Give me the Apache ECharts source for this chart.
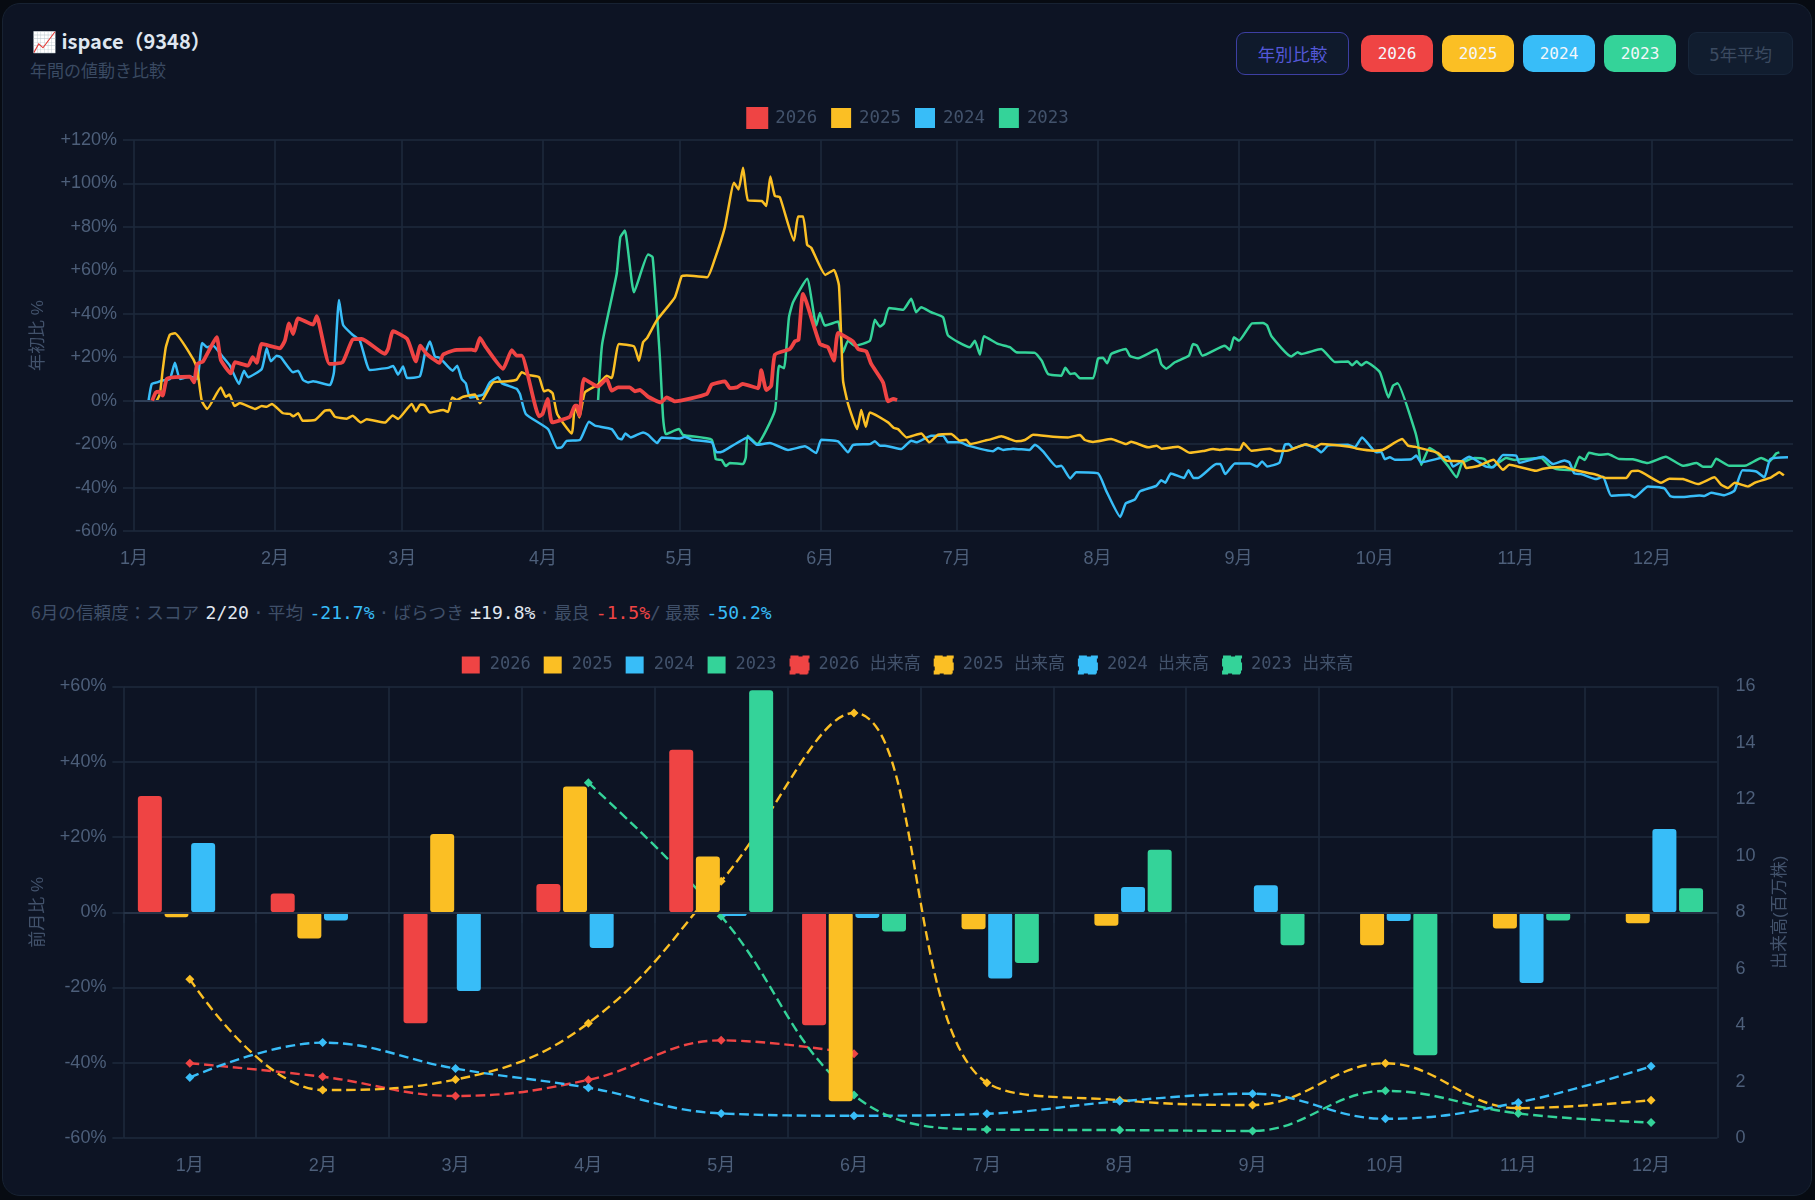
<!DOCTYPE html>
<html lang="ja">
<head>
<meta charset="utf-8">
<title>ispace（9348）年間の値動き比較</title>
<script src="https://cdn.jsdelivr.net/npm/echarts@6/dist/echarts.min.js"></script>
<style>
  html, body { margin: 0; padding: 0; background: #070b12; }
  body { width: 1815px; height: 1200px; position: relative; overflow: hidden;
         font-family: "DejaVu Sans Mono", "Noto Sans CJK JP", monospace; }
  .card { position: absolute; left: 2px; top: 3px; width: 1808px; height: 1191px;
          background: #0d1424; border: 1px solid #172232; border-radius: 18px; }
  .title { position: absolute; left: 32px; top: 26px; font: 600 20px "Noto Sans CJK JP", "Noto Sans", sans-serif;
           color: #dfe6f0; white-space: nowrap; line-height: 30px; }
  .subtitle { position: absolute; left: 30px; top: 58px; font: 17px "Noto Sans CJK JP", sans-serif;
              color: #3a4a62; line-height: 24px; white-space: nowrap; }
  .btn { position: absolute; box-sizing: border-box; display: flex; align-items: center; justify-content: center;
         font: 16px "DejaVu Sans Mono", "Noto Sans CJK JP", monospace; }
  .year { top: 35px; height: 37px; width: 72px; border-radius: 10px; color: #f4f7fb; }
  .wide { font-size: 17.4px; }
  .stats { position: absolute; left: 31px; top: 600px; font: 17.6px "Noto Sans CJK JP", sans-serif;
           color: #3f4f68; white-space: nowrap; line-height: 24px; }
  .stats b { font: 400 18px "DejaVu Sans Mono", monospace; margin-left: 6.5px; }
  .stats i { font: 400 18px "DejaVu Sans Mono", monospace; margin: 0 4px; }
  .stats i.slash { margin: 0 4px 0 0; }
  .chart { position: absolute; left: 0; width: 1815px; }
</style>
</head>
<body>
<div class="card"></div>
<div class="title">📈 ispace（9348）</div>
<div class="subtitle">年間の値動き比較</div>
<div class="btn wide" style="left:1236px;top:32px;width:113px;height:43px;border:1.5px solid #3d3fa3;border-radius:9px;background:#0f1a2c;color:#5458d8;">年別比較</div>
<div class="btn year" style="left:1361px;background:#ef4444;">2026</div>
<div class="btn year" style="left:1442px;background:#fbbf24;">2025</div>
<div class="btn year" style="left:1523px;background:#38bdf8;">2024</div>
<div class="btn year" style="left:1604px;background:#34d399;">2023</div>
<div class="btn wide" style="left:1688px;top:32px;width:105px;height:43px;border:1.5px solid #18263a;border-radius:9px;background:#111d2f;color:#3b4a60;">5年平均</div>
<div class="stats">6月の信頼度：スコア<b style="color:#e2e8f0">2/20</b><i>·</i>平均<b style="color:#38bdf8">-21.7%</b><i>·</i>ばらつき<b style="color:#e2e8f0">±19.8%</b><i>·</i>最良<b style="color:#ef4444">-1.5%</b><i class="slash">/</i>最悪<b style="color:#38bdf8">-50.2%</b></div>
<div id="ytd" class="chart" style="top:90px;height:490px;"></div>
<div id="monthly" class="chart" style="top:640px;height:545px;"></div>

<script>
// Year-to-date change (%), as [day of year, value]
const ytd2026 = [[4,0],[4.8,3.8],[5.6,4.1],[6.3,2.3],[7.2,10],[9,10.8],[12.3,11.1],[13.2,8.4],[13.9,16.9],[15.2,18.1],[18.2,29.2],[19.1,18.7],[21.3,12.6],[22.2,17.7],[25.1,16.1],[26.1,20],[27,17.4],[28.1,26.1],[32.1,24.1],[33.2,27.6],[34.1,35.6],[35,30.7],[36.1,37.9],[39.4,35],[40.2,38.9],[43,16.9],[45.9,17.7],[48.1,28.1],[50.1,28.4],[55.2,21.5],[55.9,23.8],[57,32],[60.1,28.4],[62,18.1],[63,25.3],[64.4,21.5],[67.2,17.4],[68,21.2],[70.6,23.3],[74.3,23.5],[75.1,23],[76.1,28.9],[77.4,24.6],[81.2,14.6],[83.1,23.3],[84.2,20.7],[85.3,20.7],[89.1,-7.2],[89.9,-6.1],[91,0.8],[92,-10],[95.9,-7.4],[97,-2.3],[97.5,-2.3],[98,-6.9],[99,10],[102.1,6.5],[104,10],[105.1,4.6],[106.5,6.1],[109.1,6.1],[110.2,4.3],[111.3,4.9],[113.1,1.8],[115.9,-0.8],[117.2,1.5],[119,-0.3],[126,3.1],[127.1,7.4],[130,8.9],[131.1,5.8],[132.6,6.1],[133.9,7.7],[137.3,5.7],[138,14.1],[139.1,4.9],[140.2,6.9],[141,21.2],[144.3,23.8],[145.4,27.3],[146.2,28],[147.2,49.2],[150.9,26.1],[152.7,24.6],[154,18.4],[154.9,31.2],[158.2,27.3],[159.3,23.8],[161.1,22.7],[162.2,16.9],[164.8,8.4],[165.9,-0.3],[167,0.8],[167.9,0.3]];
const ytd2025 = [[5,0],[5.7,3.1],[6.3,13.8],[7,24.6],[7.9,30.4],[9,31],[13,19.2],[13.9,14.6],[14.9,0],[16.1,-3.8],[19.1,6.1],[20.2,1.8],[21,2.8],[22.1,-2.5],[23.3,-1.1],[26.6,-3.8],[28.1,-2.5],[29.2,-2.8],[30.3,-1.5],[32.8,-5.8],[34.3,-6.1],[35,-7.2],[36.1,-5.8],[37.1,-9.2],[39.8,-8.9],[42,-4.6],[43.1,-4.3],[44.2,-7.4],[46.8,-8.3],[48.1,-6.9],[49.9,-10],[51.2,-8.6],[55.2,-10.1],[56.9,-6.8],[58.1,-8.4],[61.1,-1.5],[62,-4.9],[63,-1.8],[64,-2.2],[65.1,-5.5],[68,-4.3],[69.1,-5.2],[70,1.5],[71,0.3],[72.4,1.8],[75,2.8],[76.1,-1.2],[79,8.4],[82.3,8.9],[84.2,9.7],[85.3,13.1],[86.7,11.8],[89.1,10.8],[90.2,4.3],[91.1,4.9],[92.1,3.4],[93.1,-6.1],[96.3,-15.1],[97,-2.3],[98,-7.7],[99.2,3.8],[102.1,7.4],[104,11.5],[105.1,10.4],[106.7,26.1],[110,25],[111.1,18.4],[112,26.9],[112.9,28.9],[115,36.9],[119,47.6],[120.5,57.3],[121.6,57.6],[126.1,56.8],[127.8,65.3],[130,79.9],[132,100.3],[133,97.2],[134,107.2],[135.1,92.2],[138.1,91.9],[139.1,89.6],[140,103.2],[141,94.2],[142.1,93.7],[145.2,73.7],[146.1,84.8],[147.2,84.8],[148.1,71.7],[149,70.4],[152.1,57.9],[154,60.2],[155.1,53],[156,9.2],[157.1,-1.5],[159.1,-13.1],[160,-4.3],[161,-12],[161.9,-5.4],[165.9,-10],[167.2,-12.6],[168.1,-13.1],[170,-16.9],[173.2,-15.1],[175,-19.2],[176.9,-15.7],[179.8,-15.4],[181.7,-18.4],[183.1,-18],[184,-20],[187.2,-18.4],[188.6,-17.7],[190.8,-16.4],[192.7,-17.7],[194.1,-18.7],[196,-18.1],[197.8,-15.7],[202.2,-16.6],[205.5,-16.9],[208.1,-15.8],[209.2,-18.1],[211,-19],[215,-17.7],[218.3,-20],[219.4,-18.9],[223.1,-21.5],[225,-20.7],[226,-22.1],[229.7,-21.2],[232.3,-24],[235.2,-23.2],[237.4,-22.3],[238.9,-22.7],[240.3,-22.3],[243.3,-22.6],[244.1,-19.5],[245.8,-23],[249.9,-22.1],[251.3,-23.2],[253.9,-23],[257.9,-20.1],[259.8,-21.5],[261.2,-20],[267.4,-21.2],[268.9,-22],[272.6,-23],[274.8,-22.6],[279,-17.7],[280.3,-20.7],[281.8,-21.2],[286.9,-24.1],[288.7,-27.6],[292.4,-28],[293.1,-31],[295.7,-30.1],[299.1,-27.2],[301.2,-31.8],[302.6,-29.5],[308.5,-32.3],[310,-31.3],[314.7,-30.4],[316.6,-31.8],[321.7,-34.1],[323.9,-35.6],[328.3,-35.6],[329.4,-32.6],[330.9,-32.3],[336,-37.8],[337.8,-35.9],[340.8,-36.1],[344.1,-38.4],[347.7,-35.3],[349.2,-38.7],[350.7,-40.2],[352.2,-37.8],[355.1,-39.5],[356.6,-37.8],[360.2,-35.3],[362,-32.9],[363,-34.4]];
const ytd2024 = [[3.2,0],[3.9,7.7],[5,8.4],[6.1,9.2],[7.9,10],[9,17.4],[10.1,10],[12.3,11.1],[13.9,10],[15,26.6],[16.1,24.6],[17.4,25.3],[19.6,20],[21.1,16.1],[23.1,7.7],[24.2,13.8],[25.1,10.8],[28.1,14.6],[29.2,24.1],[30.1,18.1],[31.4,20.7],[32.3,20],[35,13.1],[36.1,13.8],[37.2,9.5],[38.3,8.4],[39.4,8.9],[43.1,7.2],[44,13.1],[45.1,46.4],[46,34.9],[47.9,30.7],[49.7,27.6],[51.9,14.1],[55.9,15.1],[57,16],[58.1,12],[59.2,15.7],[60.1,10.4],[62.9,11.2],[64,21.5],[65.1,27.2],[66.2,20.3],[67.3,19.7],[70.1,13.8],[71.1,16.1],[72.1,10],[73,8],[73.9,1.5],[76.8,2.8],[78.3,8.4],[80.1,10.8],[80.9,8.1],[84.2,5.4],[84.9,3.1],[86.2,-6.1],[91.1,-13.1],[93.1,-21.8],[94.1,-21.5],[95.2,-18.5],[98.1,-18.1],[100.1,-9.7],[101.4,-11.5],[105.1,-13.1],[106.5,-17.2],[107.3,-17.8],[108.1,-15.1],[109.3,-16.9],[112,-14.6],[113.1,-15.7],[115.1,-19.5],[116.1,-16.9],[120.1,-17.4],[121.2,-16.6],[122.7,-18],[127.1,-19.2],[128.2,-23.8],[129.6,-23.3],[135.1,-16.9],[137,-20.3],[139.9,-19.5],[143.9,-22.7],[147.6,-21],[150.1,-24.1],[151.2,-18],[154.9,-18.7],[157.1,-23.8],[158.2,-20.4],[161.9,-20],[163,-18.7],[164.1,-20.7],[165.2,-20.7],[168.8,-22.3],[171,-18.4],[172.1,-19.2],[175.4,-16.1],[178,-16.1],[179.1,-19.2],[181.7,-19.2],[183.5,-20.7],[189,-23.3],[190.1,-21.8],[191.2,-22.7],[193.4,-22.1],[197,-22.7],[198.2,-20.3],[200,-23.3],[203,-30.4],[204,-30],[206,-35.8],[207.3,-33],[212.1,-33.5],[213.9,-41.5],[217,-53.5],[218.2,-47.3],[220.2,-45.5],[221.3,-41.8],[224.9,-39.2],[226,-36.6],[226.9,-37.8],[228.1,-33.5],[231,-35.6],[232,-32],[233.1,-35.6],[234.1,-35.6],[238.1,-29.2],[239,-29.2],[240.1,-33.8],[242.2,-28.9],[245.5,-28.9],[247.1,-30.3],[248.2,-28],[249.3,-30.3],[252,-28.6],[253.2,-20.3],[254.1,-20],[255,-22],[257.6,-20.3],[259.8,-21.5],[261.2,-23.8],[262.7,-20.7],[267.1,-20.3],[268.6,-21.5],[270.2,-16.9],[273.3,-23.8],[274.4,-23.5],[275.2,-26.9],[276.3,-26.1],[277.4,-27.2],[281,-27],[282.1,-25.3],[283.2,-28.4],[289.1,-25.7],[290.2,-30.3],[293.8,-25.8],[297.5,-30.4],[299,-30.7],[301.2,-25],[304.1,-25.3],[304.8,-28.6],[310,-25.8],[312.2,-29.2],[314.7,-27.6],[315.8,-28.4],[316.9,-33.5],[318.4,-33.8],[321.7,-36.1],[323.2,-35],[325,-43.8],[329,-43.3],[330.1,-44.5],[333.1,-39.5],[336.7,-40.4],[338,-43.9],[340.4,-44.4],[344.4,-43.6],[345.5,-43.9],[347,-42.4],[349.9,-43.5],[352.1,-41.5],[353.9,-32],[356.9,-32.6],[358.7,-35.3],[360,-26.9],[363.9,-26.1]];
const ytd2023 = [[102.1,0],[103,26.1],[106.2,58.4],[107,75.3],[108,78.3],[110,49.9],[113.1,67.3],[114.1,66.1],[115.7,20],[116.4,-7.7],[117,-15.4],[119.9,-13.1],[120.8,-15.8],[127.1,-18],[128,-26.9],[129.3,-27.3],[130.2,-30.1],[131.1,-28.7],[134,-29.2],[134.6,-26.1],[135,-16.1],[137.1,-20],[141,-4.6],[141.9,16.1],[143,14.9],[144.1,38.4],[145,45.3],[148.1,56.1],[150.1,34.6],[150.9,40.4],[152,34.6],[154.9,36.4],[156,22.3],[157.1,27.6],[158.6,25.3],[161.9,27.6],[163,37.2],[164.1,34.1],[165,35.6],[166.1,42.7],[169.2,41.8],[171,46.9],[172.1,40.7],[173.2,43],[175.4,40.7],[178,38.4],[179.1,30],[183.9,24.6],[185,27.6],[186.1,21.2],[187,29.6],[190.1,26.1],[192.7,24.6],[194.1,22.3],[198.2,22],[199.7,18.4],[201.1,12.3],[204,11.5],[204.9,15.1],[206,12.3],[207,12.6],[208.1,10.3],[211,10.3],[212.1,19.4],[213.2,19.7],[214.1,17.2],[215,21.5],[218.2,23.8],[219.1,20.6],[220.9,19.5],[225,23.5],[226,16.9],[227.1,14.7],[229,17.7],[232.1,20.7],[233,26.1],[233.9,25.3],[235.1,20.7],[240,25.3],[241.1,23.3],[242,29.2],[243.1,27.6],[246,35.6],[248.4,35.8],[249.3,34.6],[250.3,29.5],[254.6,20.3],[256,22.3],[256.8,21.5],[261.2,23.8],[264.2,17.8],[267.1,18],[268,16.3],[269,18.1],[270,16.3],[271.1,17.8],[274.1,13.1],[276,1.5],[277,6.9],[278,8],[281.8,-13.8],[282.5,-20],[283.2,-29.6],[285,-21.8],[286.5,-23.8],[289.1,-30],[291,-35.3],[292.2,-28.7],[294.9,-26.4],[297.1,-26.9],[298.6,-30.7],[301.9,-26.4],[303.8,-27.3],[305.2,-27],[309.6,-26.4],[311.4,-30],[312.9,-31.5],[316.6,-32],[318,-25.8],[319.2,-27.3],[320.1,-24],[322.4,-24.9],[324.3,-24.6],[326.8,-26.9],[329.8,-27],[333,-28.7],[337,-25.8],[340.8,-30],[343.8,-28.7],[345.2,-30.4],[347,-30.4],[348.1,-26.7],[351,-30],[354.7,-29.8],[358,-26.4],[359.8,-28],[361.3,-24.3],[362,-23.8]];

// Month-on-month change (%)
const months = ['1月','2月','3月','4月','5月','6月','7月','8月','9月','10月','11月','12月'];
const mom2026 = [30.9, 5.0, -29.5, 7.5, 43.2, -30.0, null, null, null, null, null, null];
const mom2025 = [-1.3, -7.0, 20.8, 33.4, 14.8, -50.2, -4.5, -3.6, -0.3, -8.8, -4.3, -2.9];
const mom2024 = [18.4, -2.2, -20.9, -9.5, -1.0, -1.5, -17.6, 6.7, 7.2, -2.3, -18.8, 22.1];
const mom2023 = [null, null, null, null, 59.0, -5.1, -13.5, 16.6, -8.8, -38.0, -2.2, 6.4];

// Average traded volume (million shares)
const vol2026 = [2.65, 2.17, 1.49, 2.06, 3.46, 2.99, null, null, null, null, null, null];
const vol2025 = [5.63, 1.70, 2.07, 4.07, 9.10, 15.06, 1.96, 1.34, 1.17, 2.65, 1.06, 1.34];
const vol2024 = [2.14, 3.38, 2.46, 1.78, 0.87, 0.79, 0.86, 1.30, 1.57, 0.68, 1.26, 2.54];
const vol2023 = [null, null, null, 12.59, 7.86, 1.52, 0.30, 0.28, 0.25, 1.67, 0.87, 0.55];

// First day of each month, counted from 1 January
const monthStarts = [0, 31, 59, 90, 120, 151, 181, 212, 243, 273, 304, 334];

const RED = '#ef4444', AMBER = '#fbbf24', SKY = '#38bdf8', GREEN = '#34d399';
const GRID = '#1e2a3d', MUTED = '#4d5f7a', DIM = '#42526b';
const SANS = '"Liberation Sans", Arial, "Noto Sans CJK JP", sans-serif';
const MONO = '"DejaVu Sans Mono", "Noto Sans CJK JP", monospace';
const signed = v => (v > 0 ? '+' : '') + v + '%';
const gridLine = { show: true, lineStyle: { color: GRID, width: 1.5 } };
const axisTick = { show: true, length: 11, lineStyle: { color: GRID, width: 1.5 } };
const zeroLine = color => ({ silent: true, symbol: 'none', label: { show: false }, animation: false,
  lineStyle: { color, width: 1.8, type: 'solid' }, data: [{ yAxis: 0 }] });

function ytdLine(name, data, color, width, z) {
  return { name, type: 'line', data, z, smooth: 0.15, showSymbol: false, symbol: 'none', clip: true,
    itemStyle: { color }, lineStyle: { color, width, join: 'round' }, animation: false };
}

const ytdChart = echarts.init(document.getElementById('ytd'), null, { renderer: 'canvas' });
const ytdSeries = [
  ytdLine('2026', ytd2026, RED, 3.8, 5),
  ytdLine('2025', ytd2025, AMBER, 2.5, 4),
  ytdLine('2024', ytd2024, SKY, 2.5, 3),
  ytdLine('2023', ytd2023, GREEN, 2.5, 2)
];
ytdSeries[3].markLine = zeroLine('#2f3f57');
ytdChart.setOption({
  backgroundColor: 'transparent',
  animation: false,
  legend: { top: 12, left: 'center', icon: 'rect', itemWidth: 20, itemHeight: 20, itemGap: 14,
    textStyle: { color: DIM, fontFamily: MONO, fontSize: 17.4, padding: [0, 0, 0, 3] },
    data: [{ name: '2026', itemStyle: { borderColor: RED, borderWidth: 2 } }, '2025', '2024', '2023'] },
  grid: { left: 134, right: 22, top: 50, height: 391 },
  xAxis: { type: 'value', min: 0, max: 365,
    axisLine: { show: false }, splitLine: gridLine,
    axisTick: Object.assign({}, axisTick, { customValues: monthStarts }),
    axisLabel: { customValues: monthStarts, margin: 19, color: MUTED, fontFamily: SANS, fontSize: 18,
      formatter: v => months[monthStarts.indexOf(v)] } },
  yAxis: { type: 'value', min: -60, max: 120, interval: 20, name: '年初比 %', nameLocation: 'middle', nameGap: 87,
    nameTextStyle: { color: DIM, fontFamily: SANS, fontSize: 17 },
    axisLine: { show: false }, splitLine: gridLine, axisTick,
    axisLabel: { margin: 17, color: MUTED, fontFamily: SANS, fontSize: 18, formatter: signed } },
  series: ytdSeries
});

function momBar(name, data, color) {
  return { name, type: 'bar', data, barWidth: 24, barGap: '11%', z: 3,
    itemStyle: { color, borderRadius: 3 }, animation: false };
}
function volLine(name, data, color) {
  return { name, type: 'line', data, yAxisIndex: 1, z: 2, smooth: 0.4, symbol: 'diamond', symbolSize: 9,
    itemStyle: { color }, lineStyle: { color, width: 2.4, type: 'dashed' }, animation: false };
}
const dashedKey = (name, color) => ({ name, itemStyle: { borderColor: color, borderWidth: 2, borderType: 'dashed' } });

const monthlyChart = echarts.init(document.getElementById('monthly'), null, { renderer: 'canvas' });
const monthlySeries = [
  momBar('2026', mom2026, RED), momBar('2025', mom2025, AMBER), momBar('2024', mom2024, SKY), momBar('2023', mom2023, GREEN),
  volLine('2026 出来高', vol2026, RED), volLine('2025 出来高', vol2025, AMBER),
  volLine('2024 出来高', vol2024, SKY), volLine('2023 出来高', vol2023, GREEN)
];
monthlySeries[4].markLine = zeroLine('#263347');
monthlySeries[4].markLine.data = [{ yAxis: 8 }];
monthlyChart.setOption({
  backgroundColor: 'transparent',
  animation: false,
  legend: { top: 10.5, left: 'center', icon: 'rect', itemWidth: 18, itemHeight: 17, itemGap: 13,
    textStyle: { color: DIM, fontFamily: MONO, fontSize: 17, padding: [0, 0, 0, 5] },
    data: ['2026', '2025', '2024', '2023',
      dashedKey('2026 出来高', RED), dashedKey('2025 出来高', AMBER),
      dashedKey('2024 出来高', SKY), dashedKey('2023 出来高', GREEN)] },
  grid: { left: 123.4, right: 97.5, top: 46.5, height: 451.5 },
  xAxis: { type: 'category', data: months,
    axisLine: { show: false }, splitLine: gridLine, axisTick,
    axisLabel: { margin: 19, color: MUTED, fontFamily: SANS, fontSize: 18 } },
  yAxis: [
    { type: 'value', min: -60, max: 60, interval: 20, name: '前月比 %', nameLocation: 'middle', nameGap: 77,
      nameTextStyle: { color: DIM, fontFamily: SANS, fontSize: 17 },
      axisLine: { show: false }, splitLine: gridLine, axisTick,
      axisLabel: { margin: 17, color: MUTED, fontFamily: SANS, fontSize: 18, formatter: signed } },
    { type: 'value', min: 0, max: 16, interval: 2, position: 'right', name: '出来高(百万株)', nameLocation: 'middle', nameGap: 54,
      nameTextStyle: { color: DIM, fontFamily: SANS, fontSize: 17 },
      axisLine: { show: false }, splitLine: { show: false }, axisTick: { show: false },
      axisLabel: { margin: 18, color: MUTED, fontFamily: SANS, fontSize: 18 } }
  ],
  series: monthlySeries
});
</script>
</body>
</html>
